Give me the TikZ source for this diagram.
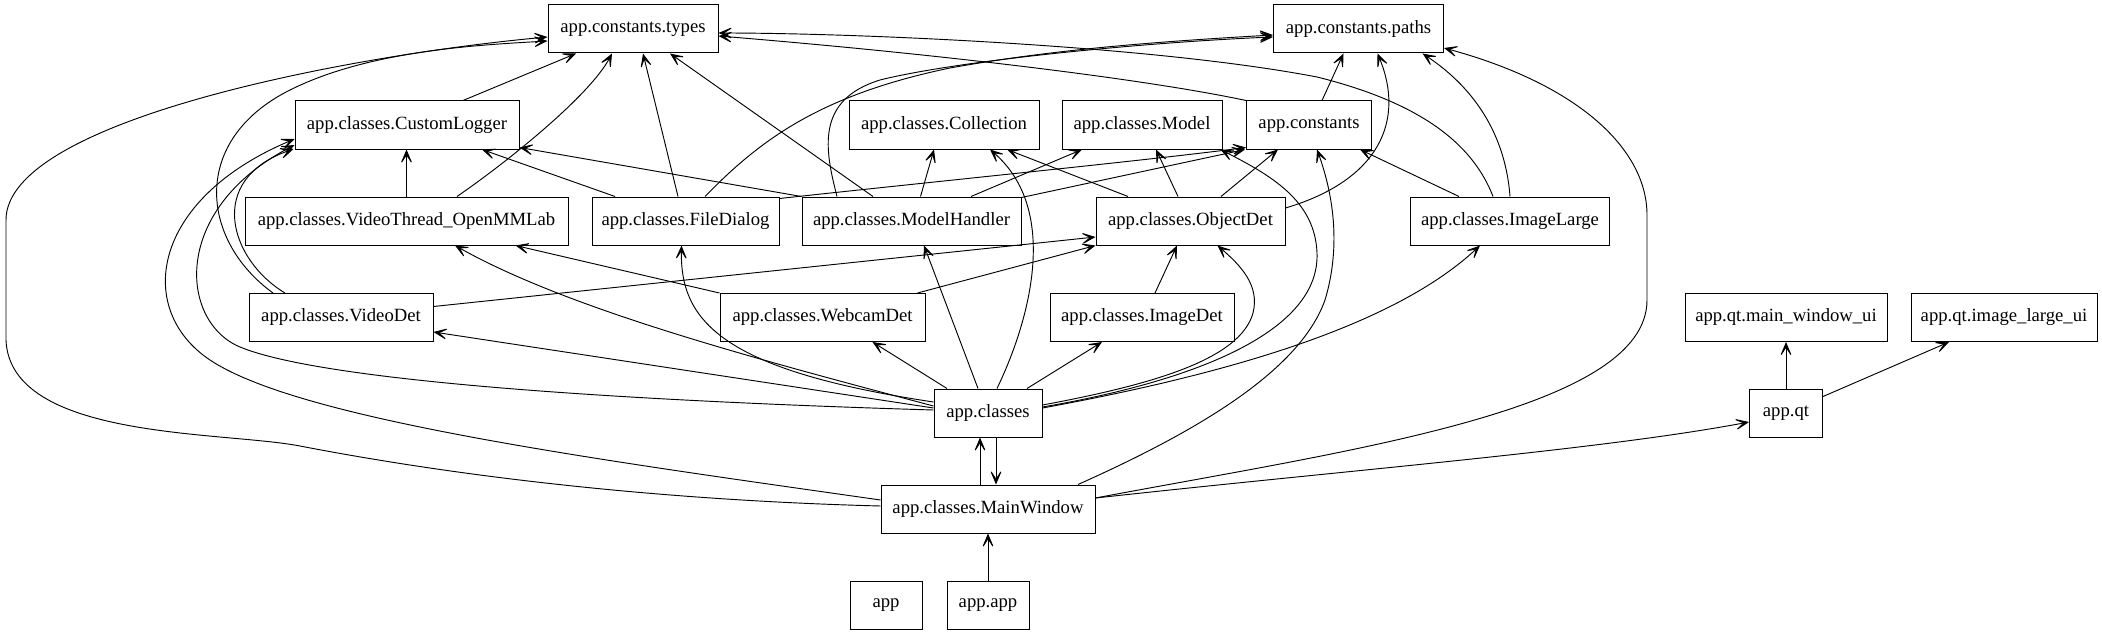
\documentclass[tikz,border=0pt]{standalone}
\usepackage{fontspec}
\setmainfont{Liberation Serif}
\usetikzlibrary{arrows.meta,calc}
\begin{document}
\begin{tikzpicture}[x=0.75pt,y=-0.75pt,
  nb/.style={draw,line width=0.75pt,minimum width=#1*0.75pt,minimum height=36pt,inner sep=0pt,font=\fontsize{14}{16}\selectfont},
  dep/.style={line width=0.7pt,-{Stealth[length=13pt,width=11pt,inset=8.5pt]}}]
\useasboundingbox (0,0) rectangle (2102,635);
\fill[white] (0,0) rectangle (2102,635);
% nodes
\node[nb=170] (types) at (633,29) {app.constants.types};
\node[nb=170] (paths) at (1358.5,29) {app.constants.paths};
\node[nb=224] (cl) at (407,125) {app.classes.CustomLogger};
\node[nb=190] (coll) at (944,125) {app.classes.Collection};
\node[nb=160] (model) at (1142,125) {app.classes.Model};
\node[nb=125] (consts) at (1309,125) {app.constants};
\node[nb=323] (vt) at (406.5,221) {app.classes.VideoThread\_OpenMMLab};
\node[nb=187] (fd) at (685.5,221) {app.classes.FileDialog};
\node[nb=219] (mh) at (911.5,221) {app.classes.ModelHandler};
\node[nb=189] (od) at (1190.5,221) {app.classes.ObjectDet};
\node[nb=199] (il) at (1510,221) {app.classes.ImageLarge};
\node[nb=184] (vd) at (341,317.5) {app.classes.VideoDet};
\node[nb=205] (wd) at (822.5,317.5) {app.classes.WebcamDet};
\node[nb=184] (idet) at (1142,317.5) {app.classes.ImageDet};
\node[nb=202] (mwui) at (1786,317.5) {app.qt.main\_window\_ui};
\node[nb=186] (ilui) at (2004,317.5) {app.qt.image\_large\_ui};
\node[nb=108] (classes) at (988,413) {app.classes};
\node[nb=73] (qt) at (1786,413) {app.qt};
\node[nb=214] (mw) at (988,509) {app.classes.MainWindow};
\node[nb=72] (app) at (886,605) {app};
\node[nb=82] (appapp) at (988,605) {app.app};
% edges into types
\draw[dep] ($(cl.north)+(56,0)$) -- ($(types.south)+(-57,0)$);
\draw[dep] ($(vt.north)+(50.5,0)$) .. controls (510,160) and (590,95) .. ($(types.south)+(-21,0)$);
\draw[dep] ($(fd.north)+(-7.5,0)$) -- ($(types.south)+(10,0)$);
\draw[dep] ($(mh.north)+(-38.5,0)$) -- ($(types.south)+(37,0)$);
\draw[dep] ($(mw.west)+(0,-3)$) .. controls (650,500) and (450,475) .. (300,446) .. controls (222,431) and (10,440) .. (6,340) -- (6,220) .. controls (6,120) and (350,55) .. ($(types.west)+(0,8)$);
\draw[dep] ($(vd.north)+(-68,0)$) .. controls (200,240) and (190,140) .. (290,90) .. controls (370,50) and (480,45) .. ($(types.west)+(0,12)$);
\draw[dep] (consts.north west) .. controls (1150,80) and (950,55) .. ($(types.east)+(0,7)$);
\draw[dep] ($(il.north)+(-17,0)$) .. controls (1475,150) and (1430,105) .. (1317,77) .. controls (1150,45) and (850,33) .. ($(types.east)+(0,4)$);
% edges into CustomLogger
\draw[dep] (vt.north) -- (vt.north |- cl.south);
\draw[dep] ($(fd.north)+(-70.5,0)$) -- ($(cl.south)+(75,0)$);
\draw[dep] (mh.north west) -- ($(cl.south east)+(0,-2)$);
\draw[dep] ($(vd.north)+(-56,0)$) .. controls (230,260) and (205,180) .. ($(cl.west)+(-1,24)$);
\draw[dep] ($(mw.west)+(0,-9)$) .. controls (600,460) and (300,420) .. (210,360) .. controls (135,310) and (150,200) .. ($(cl.west)+(0,14)$);
\draw[dep] ($(classes.west)+(0,-3)$) .. controls (600,400) and (320,380) .. (240,347) .. controls (180,322) and (170,210) .. ($(cl.west)+(0,20)$);
% edges into paths
\draw[dep] ($(fd.north)+(19.5,0)$) .. controls (760,140) and (820,95) .. (950,68) .. controls (1050,50) and (1150,42) .. ($(paths.west)+(0,6)$);
\draw[dep] ($(mh.north)+(-74.5,0)$) .. controls (825,150) and (815,100) .. (880,80) .. controls (960,60) and (1150,42) .. ($(paths.west)+(0,8)$);
\draw[dep] ($(consts.north)+(13,0)$) -- ($(paths.south)+(-15,0)$);
\draw[dep] ($(od.east)+(0,-13)$) .. controls (1380,180) and (1405,120) .. ($(paths.south)+(19,0)$);
\draw[dep] (il.north) .. controls (1505,130) and (1470,85) .. ($(paths.south)+(64,0)$);
\draw[dep] ($(mw.east)+(0,-11)$) .. controls (1350,450) and (1647,410) .. (1647,300) -- (1647,215) .. controls (1647,150) and (1580,85) .. ($(paths.east)+(0,19)$);
% edges into constants
\draw[dep] ($(fd.north east)+(0,2)$) .. controls (950,180) and (1150,160) .. ($(consts.south west)+(0,-2)$);
\draw[dep] ($(mh.north east)+(0,1)$) -- ($(consts.south west)+(-1,0)$);
\draw[dep] ($(od.north)+(30.5,0)$) -- ($(consts.south)+(-31,0)$);
\draw[dep] ($(il.north)+(-51,0)$) -- ($(consts.south)+(51,0)$);
\draw[dep] ($(mw.north)+(90,0)$) .. controls (1200,430) and (1300,370) .. (1325,300) .. controls (1340,250) and (1335,200) .. ($(consts.south)+(8,0)$);
% edges into Collection and Model
\draw[dep] ($(mh.north)+(9,0)$) -- ($(coll.south)+(-10,0)$);
\draw[dep] ($(od.north)+(-62.5,0)$) -- ($(coll.south)+(63,0)$);
\draw[dep] ($(classes.north)+(9,0)$) .. controls (1030,320) and (1060,210) .. ($(coll.south)+(46,0)$);
\draw[dep] ($(mh.north)+(59.5,0)$) -- ($(model.south)+(-60,0)$);
\draw[dep] ($(od.north)+(-12.5,0)$) -- ($(model.south)+(14,0)$);
\draw[dep] ($(classes.east)+(0,-6)$) .. controls (1200,380) and (1320,330) .. (1317,253) .. controls (1315,200) and (1270,175) .. ($(model.south east)+(-2,0)$);
% edges from app.classes
\draw[dep] ($(classes.west)+(0,-7)$) .. controls (760,360) and (570,310) .. ($(vt.south)+(48.5,0)$);
\draw[dep] ($(classes.west)+(0,-11)$) .. controls (720,370) and (680,320) .. ($(fd.south)+(-4,0)$);
\draw[dep] ($(classes.north)+(-10,0)$) -- ($(mh.south)+(12.5,0)$);
\draw[dep] ($(classes.north)+(-41,0)$) -- ($(wd.south)+(50,0)$);
\draw[dep] ($(classes.north)+(39,0)$) -- ($(idet.south)+(-40,0)$);
\draw[dep] ($(classes.west)+(0,-5)$) -- ($(vd.east)+(0,14.5)$);
\draw[dep] ($(classes.east)+(0,-8)$) .. controls (1150,385) and (1240,360) .. (1253,313) .. controls (1260,285) and (1240,265) .. ($(od.south)+(27,0)$);
\draw[dep] ($(classes.east)+(0,-5)$) .. controls (1250,370) and (1400,320) .. ($(il.south)+(-30,0)$);
\draw[dep] ($(mw.north)+(-8,0)$) -- ($(classes.south)+(-8,0)$);
\draw[dep] ($(classes.south)+(8,0)$) -- ($(mw.north)+(8,0)$);
% other edges
\draw[dep] (wd.north west) -- ($(vt.south)+(109,0)$);
\draw[dep] ($(vd.east)+(0,-11)$) -- ($(od.west)+(0,16)$);
\draw[dep] ($(wd.north east)+(-8,0)$) -- (od.south west);
\draw[dep] ($(idet.north)+(13,0)$) -- ($(od.south)+(-13.5,0)$);
\draw[dep] (appapp.north) -- (mw.south);
\draw[dep] ($(mw.east)+(0,-11)$) .. controls (1350,470) and (1600,450) .. ($(qt.west)+(0,9)$);
\draw[dep] (qt.north) -- (mwui.south);
\draw[dep] ($(qt.north east)+(0,8)$) -- ($(ilui.south)+(-55,0)$);
\end{tikzpicture}
\end{document}
